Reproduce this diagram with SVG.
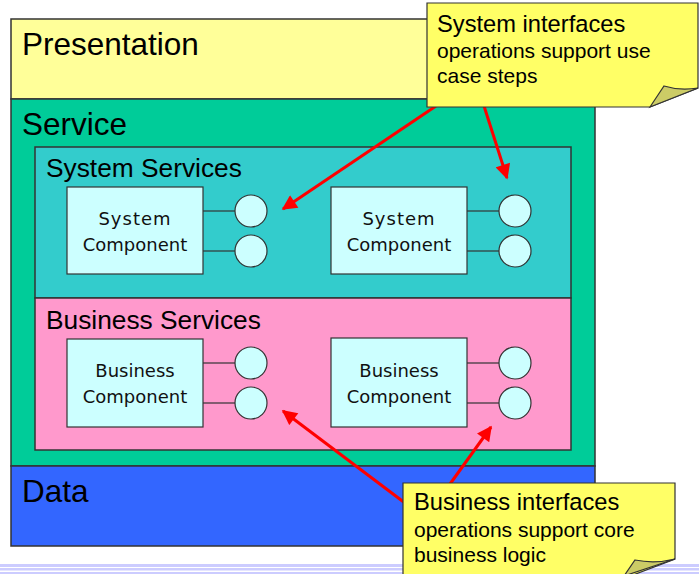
<svg xmlns="http://www.w3.org/2000/svg" width="699" height="574" viewBox="0 0 699 574">
<defs>
<style>
.layer{stroke:#333333;stroke-width:1.5}
.big{font-family:"Liberation Sans",Arial,sans-serif;font-size:31.5px;fill:#000}
.mid{font-family:"Liberation Sans",Arial,sans-serif;font-size:26.3px;fill:#000}
.comp rect{fill:#CCFFFF;stroke:#333333;stroke-width:1.2}
.comp line{stroke:#333333;stroke-width:1.2}
.comp circle{fill:#CCFFFF;stroke:#333333;stroke-width:1.2}
.ct{font-family:"DejaVu Sans",Verdana,sans-serif;font-size:18px;fill:#111;text-anchor:middle}
.note{fill:#FFFF66;stroke:#333333;stroke-width:1.2}
.fold{fill:#CCCC66;stroke:#333333;stroke-width:1.2}
.nt1{font-family:"Liberation Sans",Arial,sans-serif;font-size:23.7px;fill:#000}
.nt2{font-family:"Liberation Sans",Arial,sans-serif;font-size:21px;fill:#000}
.arrow{stroke:#FF0000;stroke-width:3;fill:none;marker-end:url(#ah)}
.band{fill:#CCCCFF}
</style>
<marker id="ah" viewBox="0 0 10 10" refX="9" refY="5" markerWidth="5.5" markerHeight="5" orient="auto" markerUnits="strokeWidth">
<path d="M0,0 L10,5 L0,10 Z" fill="#FF0000"/>
</marker>
</defs>
<g id="bands">
<rect class="band" x="0" y="564" width="699" height="3"/>
<rect class="band" x="0" y="568" width="699" height="2.5"/>
<rect class="band" x="0" y="572" width="699" height="2"/>
</g>
<g id="presentation">
<rect class="layer" x="11" y="19" width="584" height="80" fill="#FFFF99"/>
<text class="big" x="22" y="55">Presentation</text>
</g>
<g id="service">
<rect class="layer" x="11" y="99" width="584" height="367" fill="#00CC99"/>
<text class="big" x="22" y="135">Service</text>
</g>
<g id="data">
<rect class="layer" x="11" y="466" width="584" height="80" fill="#3366FF"/>
<text class="big" x="22" y="502">Data</text>
</g>
<g id="system-services">
<rect class="layer" x="35" y="147" width="536" height="151" fill="#33CCCC"/>
<text class="mid" x="46" y="177">System Services</text>
</g>
<g id="business-services">
<rect class="layer" x="35" y="298" width="536" height="152" fill="#FF99CC"/>
<text class="mid" x="46" y="329">Business Services</text>
</g>
<g id="system-component-1" class="comp">
<line x1="203" y1="211" x2="235" y2="211"/><line x1="203" y1="251" x2="235" y2="251"/>
<rect x="67" y="187" width="136" height="87"/>
<circle cx="251" cy="211" r="16"/><circle cx="251" cy="251" r="16"/>
<text class="ct" x="135" y="225" letter-spacing="1">System</text><text class="ct" x="135" y="251">Component</text>
</g>
<g id="system-component-2" class="comp">
<line x1="467" y1="211" x2="499" y2="211"/><line x1="467" y1="251" x2="499" y2="251"/>
<rect x="331" y="187" width="136" height="87"/>
<circle cx="515" cy="211" r="16"/><circle cx="515" cy="251" r="16"/>
<text class="ct" x="399" y="225" letter-spacing="1">System</text><text class="ct" x="399" y="251">Component</text>
</g>
<g id="business-component-1" class="comp">
<line x1="203" y1="363" x2="235" y2="363"/><line x1="203" y1="403" x2="235" y2="403"/>
<rect x="67" y="339" width="136" height="88"/>
<circle cx="251" cy="363" r="16"/><circle cx="251" cy="403" r="16"/>
<text class="ct" x="135" y="377">Business</text><text class="ct" x="135" y="403">Component</text>
</g>
<g id="business-component-2" class="comp">
<line x1="467" y1="363" x2="499" y2="363"/><line x1="467" y1="403" x2="499" y2="403"/>
<rect x="331" y="338" width="136" height="89"/>
<circle cx="515" cy="363" r="16"/><circle cx="515" cy="403" r="16"/>
<text class="ct" x="399" y="377">Business</text><text class="ct" x="399" y="403">Component</text>
</g>
<g id="connectors">
<line class="arrow" x1="436" y1="106" x2="283" y2="209"/>
<line class="arrow" x1="484" y1="106" x2="507" y2="178"/>
<line class="arrow" x1="405" y1="503" x2="283" y2="411"/>
<line class="arrow" x1="450" y1="484" x2="491" y2="427"/>
</g>
<g id="note-system-interfaces">
<path class="note" d="M427,3 H698 V88 L650,107 H427 Z"/>
<path class="fold" d="M650,107 L664,86 Q680,91 698,88 Z"/>
<text class="nt1" x="437" y="32">System interfaces</text>
<text class="nt2" x="437" y="58">operations support use</text>
<text class="nt2" x="437" y="83">case steps</text>
</g>
<g id="note-business-interfaces">
<path class="note" d="M403,483 H675 V559 L620,580 H403 Z"/>
<path class="fold" d="M624,576 L635,560 Q655,564 675,559 Z"/>
<text class="nt1" x="414" y="510">Business interfaces</text>
<text class="nt2" x="414" y="537">operations support core</text>
<text class="nt2" x="414" y="562">business logic</text>
</g>
</svg>
